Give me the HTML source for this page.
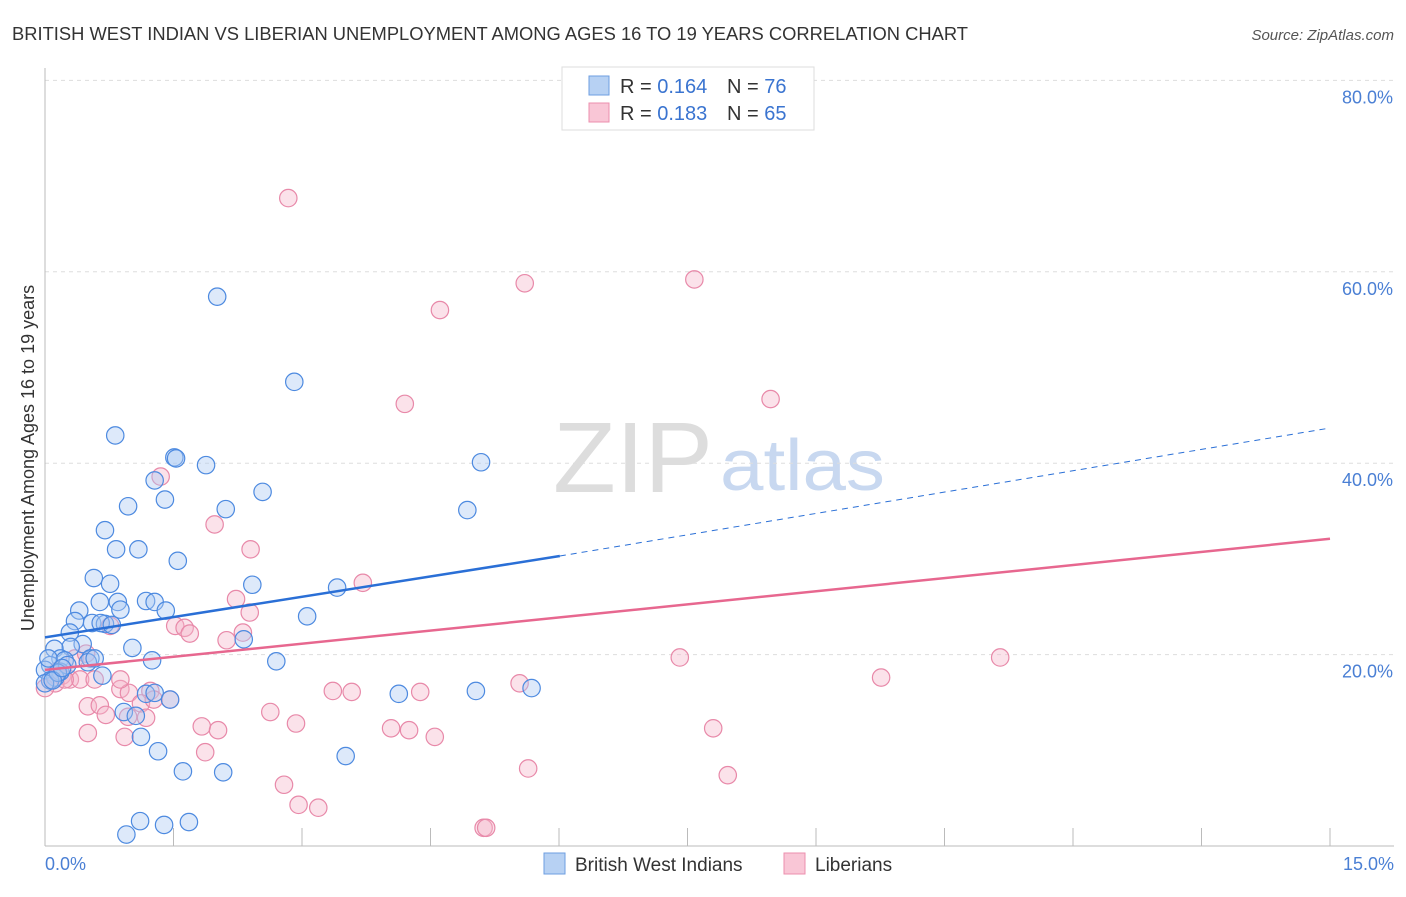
<!DOCTYPE html>
<html><head><meta charset="utf-8"><style>
body{margin:0;background:#fff;font-family:"Liberation Sans",sans-serif}
svg text{font-family:"Liberation Sans",sans-serif}
</style></head><body>
<svg id="chart" width="1406" height="892">
<text x="12" y="40" font-size="18" fill="#333" textLength="956" lengthAdjust="spacingAndGlyphs">BRITISH WEST INDIAN VS LIBERIAN UNEMPLOYMENT AMONG AGES 16 TO 19 YEARS CORRELATION CHART</text>
<text x="1394" y="40" font-size="15" fill="#555" text-anchor="end" font-style="italic">Source: ZipAtlas.com</text>
<text x="553" y="492" font-size="100" fill="#ddd" textLength="160" lengthAdjust="spacingAndGlyphs" font-family="Liberation Serif">ZIP</text>
<text x="720" y="490" font-size="72" fill="#c8d8f0" textLength="165" lengthAdjust="spacingAndGlyphs">atlas</text>
<g id="grid"></g><g id="axes"></g><g id="pts"></g><g id="lines"></g>
<text transform="translate(34,458) rotate(-90)" font-size="18" fill="#333" text-anchor="middle">Unemployment Among Ages 16 to 19 years</text>
<text x="45" y="870" font-size="18" fill="#4a7fd4">0.0%</text>
<text x="1394" y="870" font-size="18" fill="#4a7fd4" text-anchor="end">15.0%</text>
<g>
<rect x="562" y="67" width="252" height="63" fill="#fff" stroke="#ddd"/>
<rect x="589" y="76" width="20" height="19" fill="#b7d1f3" stroke="#6d9ee0"/>
<rect x="589" y="103" width="20" height="19" fill="#f9c6d6" stroke="#ec8fae"/>
<text x="620" y="93" font-size="20" fill="#333">R = <tspan fill="#3a74d0">0.164</tspan></text>
<text x="727" y="93" font-size="20" fill="#333">N = <tspan fill="#3a74d0">76</tspan></text>
<text x="620" y="120" font-size="20" fill="#333">R = <tspan fill="#3a74d0">0.183</tspan></text>
<text x="727" y="120" font-size="20" fill="#333">N = <tspan fill="#3a74d0">65</tspan></text>
</g>
<g>
<rect x="544" y="853" width="21" height="21" fill="#b7d1f3" stroke="#6d9ee0"/>
<text x="575" y="871" font-size="19" fill="#333">British West Indians</text>
<rect x="784" y="853" width="21" height="21" fill="#f9c6d6" stroke="#ec8fae"/>
<text x="815" y="871" font-size="19" fill="#333">Liberians</text>
</g>
</svg>
<script>
const yTicks=[20,40,60,80];
const xTicks=[0,1.5,3,4.5,6,7.5,9,10.5,12,13.5,15];
// values (x %, y %)
const blueX=[2.01,2.91,0.82,1.51,1.53,1.88,5.09,1.28,1.40,0.97,2.11,2.54,4.93,0.70,0.83,1.09,1.55,0.57,0.76,2.42,3.41,0.64,0.85,1.18,1.28,0.88,1.41,0.40,3.06,0.35,0.55,0.70,0.65,0.78,0.29,2.32,0.44,0.30,1.02,0.11,0.18,0.53,0.50,1.25,0.23,2.70,0.06,0.67,0.00,0.18,0.12,0.06,0.00,5.68,5.03,4.13,1.18,1.28,1.46,0.92,1.06,1.12,1.32,3.51,1.61,2.08,1.11,1.39,1.68,0.95,0.26,0.04,0.15,0.09,0.58,0.20];
const blueY=[57.4,48.5,42.9,40.6,40.5,39.8,40.1,38.2,36.2,35.5,35.2,37.0,35.1,33.0,31.0,31.0,29.8,28.0,27.4,27.3,27.0,25.5,25.5,25.6,25.5,24.7,24.6,24.6,24.0,23.5,23.3,23.2,23.3,23.1,22.3,21.6,21.1,20.8,20.7,20.6,19.6,19.6,19.2,19.4,19.4,19.3,18.9,17.8,18.4,18.2,17.6,17.3,17.0,16.5,16.2,15.9,15.9,16.0,15.3,14.0,13.6,11.4,9.9,9.4,7.8,7.7,2.6,2.2,2.5,1.2,18.9,19.6,18.1,17.3,19.6,18.6];
const pinkX=[2.84,5.60,7.58,4.61,4.20,8.47,1.35,1.98,2.40,3.71,2.23,0.76,1.52,1.63,2.39,1.69,2.31,2.12,7.41,11.15,9.76,5.54,3.36,3.58,4.38,1.23,0.88,0.98,0.50,0.64,1.12,1.27,1.46,0.71,0.97,1.18,2.63,2.93,1.83,2.02,4.04,4.25,4.55,7.80,0.50,0.93,1.87,5.64,7.97,2.79,2.96,3.19,5.12,5.15,0.20,0.29,0.41,0.58,0.12,0.06,0.15,0.35,0.23,0.00,0.88,0.48];
const pinkY=[67.7,58.8,59.2,56.0,46.2,46.7,38.6,33.6,31.0,27.5,25.8,23.0,23.0,22.8,24.4,22.2,22.3,21.5,19.7,19.7,17.6,17.0,16.2,16.1,16.1,16.2,16.4,16.0,14.6,14.7,14.9,15.3,15.3,13.7,13.5,13.4,14.0,12.8,12.5,12.1,12.3,12.1,11.4,12.3,11.8,11.4,9.8,8.1,7.4,6.4,4.3,4.0,1.9,1.9,17.8,17.4,17.4,17.4,17.0,17.3,18.3,19.6,17.4,16.5,17.4,20.1];
const blueTrend=[[0,21.8],[6.01,30.3],[14.95,43.6]];
const pinkTrend=[[0,18.4],[15,32.1]];
const X=v=>45+v/15*1285, Y=v=>846-v*9.57;
const NS="http://www.w3.org/2000/svg";
function mk(t,a,p){const e=document.createElementNS(NS,t);for(const k in a)e.setAttribute(k,a[k]);p.appendChild(e);return e;}
const grid=document.getElementById('grid'),axes=document.getElementById('axes');
yTicks.forEach(t=>{
 const l=mk('line',{x1:45,x2:1394,y1:Y(t),y2:Y(t),stroke:'#ddd','stroke-dasharray':'4,4'},grid);
 
 
 const tx=mk('text',{x:1393,y:Y(t)+23,'font-size':18,fill:'#4a7fd4','text-anchor':'end'},grid);
 tx.textContent=t.toFixed(1)+'%';
 
 
});
mk('line',{x1:45,x2:45,y1:68,y2:846,stroke:'#bbb'},axes);
mk('line',{x1:45,x2:1394,y1:846,y2:846,stroke:'#bbb'},axes);
xTicks.forEach(t=>{
 const l=mk('line',{x1:X(t),x2:X(t),y1:828,y2:846,stroke:'#bbb'},axes);
 
 
});
const pts=document.getElementById('pts');
function draw(xs,ys,fill,stroke,name){xs.forEach((x,i)=>{
 const c=mk('circle',{cx:X(x),cy:Y(ys[i]),r:8.7,fill:fill,'fill-opacity':0.4,stroke:stroke,'stroke-width':1.2},pts);
 
 
});}
draw(pinkX,pinkY,'#f6b6cb','#e889a9','liberian-point');
draw(blueX,blueY,'#a9c9f2','#4d8ae0','bwi-point');
const lines=document.getElementById('lines');
const b1=mk('line',{x1:X(blueTrend[0][0]),y1:Y(blueTrend[0][1]),x2:X(blueTrend[1][0]),y2:Y(blueTrend[1][1]),stroke:'#2a6fd6','stroke-width':2.5},lines);


const b2=mk('line',{x1:X(blueTrend[1][0]),y1:Y(blueTrend[1][1]),x2:X(blueTrend[2][0]),y2:Y(blueTrend[2][1]),stroke:'#2a6fd6','stroke-width':1,'stroke-dasharray':'6,5'},lines);


const p1=mk('line',{x1:X(pinkTrend[0][0]),y1:Y(pinkTrend[0][1]),x2:X(pinkTrend[1][0]),y2:Y(pinkTrend[1][1]),stroke:'#e7678f','stroke-width':2.5},lines);


</script>
</body></html>
